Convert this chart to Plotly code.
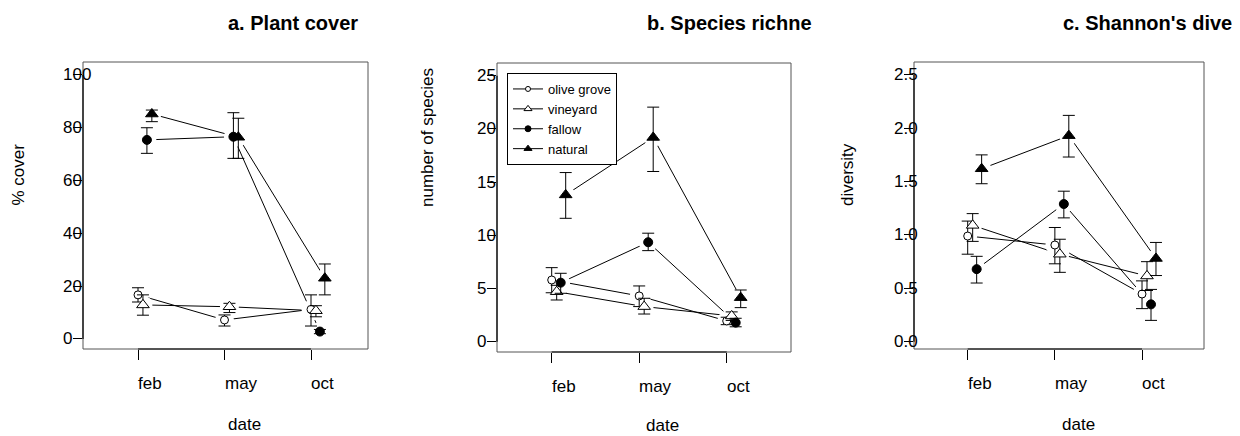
import plotly.graph_objects as go

# ---------------- data ----------------
months = ["feb", "may", "oct"]
series = ["olive grove", "vineyard", "fallow", "natural"]

cover_olive = [16.7, 7.2, 11.2]
cover_olive_hi = [19.4, 9.1, 16.7]
cover_olive_lo = [14.0, 4.9, 4.9]
cover_vineyard = [12.9, 12.2, 10.7]
cover_vineyard_hi = [16.7, 13.5, 12.6]
cover_vineyard_lo = [9.0, 10.0, 8.4]
cover_fallow = [75.4, 76.6, 2.8]
cover_fallow_hi = [80.0, 85.7, 3.6]
cover_fallow_lo = [70.3, 68.4, 2.0]
cover_natural = [85.2, 76.4, 23.0]
cover_natural_hi = [86.7, 83.6, 28.4]
cover_natural_lo = [82.3, 68.4, 16.7]

rich_olive = [5.8, 4.3, 1.95]
rich_olive_hi = [6.96, 5.24, 2.3]
rich_olive_lo = [4.6, 3.3, 1.6]
rich_vineyard = [4.7, 3.3, 2.42]
rich_vineyard_hi = [5.3, 4.08, 2.8]
rich_vineyard_lo = [3.92, 2.6, 2.0]
rich_fallow = [5.55, 9.35, 1.79]
rich_fallow_hi = [6.43, 10.2, 2.2]
rich_fallow_lo = [4.55, 8.56, 1.4]
rich_natural = [13.8, 19.2, 4.14]
rich_natural_hi = [15.9, 22.05, 4.86]
rich_natural_lo = [11.6, 16.0, 3.2]

div_olive = [0.99, 0.906, 0.447]
div_olive_hi = [1.13, 1.07, 0.57]
div_olive_lo = [0.82, 0.73, 0.31]
div_vineyard = [1.09, 0.82, 0.616]
div_vineyard_hi = [1.20, 0.96, 0.75]
div_vineyard_lo = [0.94, 0.65, 0.48]
div_fallow = [0.68, 1.29, 0.35]
div_fallow_hi = [0.80, 1.41, 0.49]
div_fallow_lo = [0.55, 1.16, 0.20]
div_natural = [1.62, 1.93, 0.78]
div_natural_hi = [1.75, 2.12, 0.93]
div_natural_lo = [1.48, 1.73, 0.62]

cover_ticks = [0, 20, 40, 60, 80, 100]
cover_ticklabels = ["0", "20", "40", "60", "80", "100"]
rich_ticks = [0, 5, 10, 15, 20, 25]
rich_ticklabels = ["0", "5", "10", "15", "20", "25"]
div_ticks = [0, 0.5, 1.0, 1.5, 2.0, 2.5]
div_ticklabels = ["0.0", "0.5", "1.0", "1.5", "2.0", "2.5"]

titles = ["a. Plant cover", "b. Species richne", "c. Shannon's dive"]
ytitles = ["% cover", "number of species", "diversity"]
xtitle = "date"

# ---------------- styling ----------------
PAGE_OFF = 8            # default body margin of the html page
W, H = 1240 - PAGE_OFF, 436 - PAGE_OFF
FONT = "Liberation Sans, Arial, sans-serif"
offsets = [0.0, 0.057, 0.103, 0.16]
styles = [
    dict(symbol="circle", size=8, fill="white", lsize=5),
    dict(symbol="triangle-up", size=11, fill="white", lsize=7),
    dict(symbol="circle", size=9, fill="black", lsize=6),
    dict(symbol="triangle-up", size=11, fill="black", lsize=7),
]

# panel pixel geometry (screen px): box left, right, top, bottom; x range; y range
panels = [
    dict(box=(83, 368, 62, 349), xr=[-0.636, 2.659], yr=[-3.8, 104.9],
         data=[(cover_olive, cover_olive_hi, cover_olive_lo),
               (cover_vineyard, cover_vineyard_hi, cover_vineyard_lo),
               (cover_fallow, cover_fallow_hi, cover_fallow_lo),
               (cover_natural, cover_natural_hi, cover_natural_lo)],
         ticks=cover_ticks, ticklabels=cover_ticklabels,
         title_x=228, ytitle_x=17.5, ytitle_y=175, date_x=245, date_y=424),
    dict(box=(497, 791, 63, 352), xr=[-0.625, 2.735], yr=[-0.97, 26.2],
         data=[(rich_olive, rich_olive_hi, rich_olive_lo),
               (rich_vineyard, rich_vineyard_hi, rich_vineyard_lo),
               (rich_fallow, rich_fallow_hi, rich_fallow_lo),
               (rich_natural, rich_natural_hi, rich_natural_lo)],
         ticks=rich_ticks, ticklabels=rich_ticklabels,
         title_x=647, ytitle_x=428, ytitle_y=137, date_x=662, date_y=425),
    dict(box=(914, 1204, 62, 349), xr=[-0.616, 2.711], yr=[-0.068, 2.62],
         data=[(div_olive, div_olive_hi, div_olive_lo),
               (div_vineyard, div_vineyard_hi, div_vineyard_lo),
               (div_fallow, div_fallow_hi, div_fallow_lo),
               (div_natural, div_natural_hi, div_natural_lo)],
         ticks=div_ticks, ticklabels=div_ticklabels,
         title_x=1063, ytitle_x=847, ytitle_y=175, date_x=1078, date_y=424),
]


def px(x):
    return (x - PAGE_OFF) / W


def py(y):
    return 1 - (y - PAGE_OFF) / H


fig = go.Figure()
annotations = []
shapes = []

for pi, p in enumerate(panels):
    n = "" if pi == 0 else str(pi + 1)
    xa, ya = "x" + n, "y" + n
    L, R, T, B = p["box"]
    fig.layout["xaxis" + n] = dict(
        domain=[px(L), px(R)], range=p["xr"], anchor=ya,
        tickvals=[0, 1, 2], showticklabels=False, ticks="outside",
        ticklen=10, tickwidth=1, tickcolor="black",
        showgrid=False, zeroline=False, showline=False, fixedrange=True)
    fig.layout["yaxis" + n] = dict(
        domain=[py(B), py(T)], range=p["yr"], anchor=xa,
        tickvals=p["ticks"], showticklabels=False, ticks="outside",
        ticklen=9, tickwidth=1, tickcolor="black",
        showgrid=False, zeroline=False, showline=False, fixedrange=True)

    xs_all = [[i + offsets[si] for i in range(len(months))] for si in range(4)]

    # connecting lines (also carry the legend in panel b)
    for si, (vals, hi, lo) in enumerate(p["data"]):
        st = styles[si]
        fig.add_trace(go.Scatter(
            x=xs_all[si], y=vals, mode="lines+markers", xaxis=xa, yaxis=ya,
            name=series[si], showlegend=(pi == 1),
            line=dict(color="black", width=1),
            marker=dict(symbol=st["symbol"], size=st["lsize"], color=st["fill"],
                        line=dict(color="black", width=1)),
            hoverinfo="skip"))
    # white halos leaving gaps between lines and markers
    for si, (vals, hi, lo) in enumerate(p["data"]):
        fig.add_trace(go.Scatter(
            x=xs_all[si], y=vals, mode="markers", xaxis=xa, yaxis=ya,
            showlegend=False, hoverinfo="skip",
            marker=dict(symbol="circle", size=19, color="white")))
    # markers + error bars
    for si, (vals, hi, lo) in enumerate(p["data"]):
        st = styles[si]
        fig.add_trace(go.Scatter(
            x=xs_all[si], y=vals, mode="markers", xaxis=xa, yaxis=ya,
            showlegend=False, name=series[si],
            error_y=dict(type="data", symmetric=False,
                         array=[h - v for h, v in zip(hi, vals)],
                         arrayminus=[v - l for v, l in zip(vals, lo)],
                         color="black", thickness=1, width=6),
            marker=dict(symbol=st["symbol"], size=st["size"], color=st["fill"],
                        line=dict(color="black", width=1))))

    # frame
    shapes.append(dict(type="rect", xref="paper", yref="paper",
                       x0=px(L), x1=px(R), y0=py(B), y1=py(T),
                       line=dict(color="#555555", width=1), layer="above"))
    # black axis lines spanning the tick range
    shapes.append(dict(type="line", xref=xa + " domain", yref=ya,
                       x0=0, x1=0, y0=p["ticks"][0], y1=p["ticks"][-1],
                       line=dict(color="black", width=1.2), layer="above"))
    shapes.append(dict(type="line", xref=xa, yref=ya + " domain",
                       x0=0, x1=2, y0=0, y1=0,
                       line=dict(color="black", width=1.2), layer="above"))

    # y tick labels (left aligned)
    for tv, tl in zip(p["ticks"], p["ticklabels"]):
        annotations.append(dict(xref="paper", yref=ya, x=px(L - 22), y=tv,
                                text=tl, showarrow=False, xanchor="left",
                                yanchor="middle",
                                font=dict(family=FONT, size=17, color="black")))
    # x tick labels (left aligned at tick)
    for i, m in enumerate(months):
        annotations.append(dict(xref=xa, yref="paper", x=i, y=py(B + 34),
                                text=m, showarrow=False, xanchor="left",
                                yanchor="middle", xshift=-2,
                                font=dict(family=FONT, size=17, color="black")))
    # axis titles
    annotations.append(dict(xref="paper", yref="paper", x=px(p["date_x"]),
                            y=py(p["date_y"]), text=xtitle, showarrow=False,
                            xanchor="center", yanchor="middle",
                            font=dict(family=FONT, size=17, color="black")))
    annotations.append(dict(xref="paper", yref="paper", x=px(p["ytitle_x"]),
                            y=py(p["ytitle_y"]), text=ytitles[pi], textangle=-90,
                            showarrow=False, xanchor="center", yanchor="middle",
                            font=dict(family=FONT, size=17, color="black")))
    # panel title
    annotations.append(dict(xref="paper", yref="paper", x=px(p["title_x"] - 2),
                            y=py(23), text="<b>" + titles[pi] + "</b>",
                            showarrow=False, xanchor="left", yanchor="middle",
                            font=dict(family=FONT, size=20, color="black")))

fig.update_layout(
    width=W, height=H, margin=dict(l=0, r=0, t=0, b=0),
    paper_bgcolor="white", plot_bgcolor="white",
    showlegend=True,
    legend=dict(x=px(507), y=py(73), xanchor="left", yanchor="top",
                bgcolor="white", bordercolor="black", borderwidth=1,
                font=dict(family=FONT, size=13, color="black"),
                itemclick=False, itemdoubleclick=False,
                tracegroupgap=0),
    annotations=annotations, shapes=shapes,
    font=dict(family=FONT, color="black"),
)

fig.write_html("out.html")
